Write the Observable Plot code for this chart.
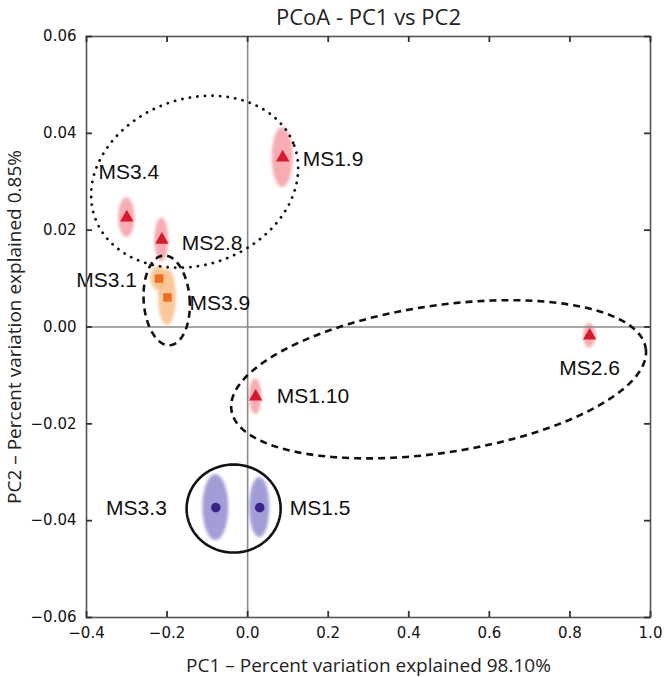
<!DOCTYPE html>
<html><head><meta charset="utf-8">
<script src="https://cdn.jsdelivr.net/npm/d3@7"></script>
<script src="https://cdn.jsdelivr.net/npm/@observablehq/plot@0.6"></script>
<style>body{margin:0;background:#fff}</style>
</head><body><div id="chart"></div>
<script>
// ---- data ----
const samples   = ["MS1.9","MS3.4","MS2.8","MS3.1","MS3.9","MS2.6","MS1.10","MS3.3","MS1.5"];
const pc1       = [0.087,-0.300,-0.213,-0.220,-0.199,0.849,0.020,-0.079,0.030];
const pc2       = [0.0350,0.0226,0.0180,0.0100,0.0061,-0.0018,-0.0144,-0.0373,-0.0373];
const pc1Spread = [0.026,0.020,0.017,0.020,0.022,0.015,0.015,0.032,0.025];
const pc2Spread = [0.0062,0.0041,0.0045,0.0025,0.0058,0.0025,0.0037,0.0068,0.0062];
const groups    = ["A","A","A","B","B","A","A","C","C"];
const xTicks = [-0.4,-0.2,0.0,0.2,0.4,0.6,0.8,1.0];
const yTicks = [-0.06,-0.04,-0.02,0.00,0.02,0.04,0.06];
const title = "PCoA - PC1 vs PC2";
const xLabel = "PC1 – Percent variation explained 98.10%";
const yLabel = "PC2 – Percent variation explained 0.85%";
// cluster outlines (centre in PC units, semi-axes in PC units, tilt in degrees)
const outlineStyle = ["dotted","dashed","dashed","solid"];
const outlineCx = [-0.1316,-0.201,0.474,-0.0348];
const outlineCy = [0.0300,0.0055,-0.0108,-0.0375];
const outlineA  = [0.263,0.0571,0.52,0.1167];
const outlineB  = [0.01714,0.00929,0.0152,0.00909];
const outlineTilt = [-20,-4,-8.5,0];

// ---- layout ----
const W=666,H=677,mL=86,mR=16,mT=36,mB=60;
const xDom=[-0.4,1.0], yDom=[-0.06,0.06];
const innerW=W-mL-mR, innerH=H-mT-mB;
const kx=innerW/(xDom[1]-xDom[0]), ky=innerH/(yDom[1]-yDom[0]);

const pts = samples.map((s,i)=>({name:s,x:pc1[i],y:pc2[i],sx:pc1Spread[i],sy:pc2Spread[i],g:groups[i]}));
const blobs = pts.flatMap(p=>d3.range(0,61).map(k=>{
  const t=Math.PI*k/60; const c=Math.cos(t), s=Math.sin(t);
  return {name:p.name,g:p.g,x:p.x - p.sx*c, y1:p.y - p.sy*s, y2:p.y + p.sy*s};
}));
function outlinePts(i){
  const th=outlineTilt[i]*Math.PI/180, a=outlineA[i]*kx, b=outlineB[i]*ky;
  return d3.range(0,181).map(k=>{
    const t=2*Math.PI*k/180;
    const px=a*Math.cos(t)*Math.cos(th)-b*Math.sin(t)*Math.sin(th);
    const py=a*Math.cos(t)*Math.sin(th)+b*Math.sin(t)*Math.cos(th);
    return {i, x:outlineCx[i]+px/kx, y:outlineCy[i]-py/ky};
  });
}
const dashes={dotted:"0.1,7.5",dashed:"7,5",solid:null};
const blobFill={A:"#f49ea5",B:"#f9bd86",C:"#918dd0"};
const markFill={A:"#d8192b",B:"#e8701e",C:"#3a2388"};
const symbolOf={A:"triangle",B:"square",C:"circle"};
const place={
 "MS1.9":["start",20,2],"MS3.4":["middle",2,-45],"MS2.8":["start",20,3],
 "MS3.1":["end",-22,2],"MS3.9":["start",22,6],"MS2.6":["middle",0,33],
 "MS1.10":["start",21,0],"MS3.3":["end",-49,1],"MS1.5":["start",30,1]
};
const lblFont="Liberation Sans, Arial, sans-serif";
const tickFont="DejaVu Sans, sans-serif";
const capFont="Open Sans, sans-serif";

const chart = Plot.plot({
  width:W,height:H,marginLeft:mL,marginRight:mR,marginTop:mT,marginBottom:mB,
  x:{domain:xDom},y:{domain:yDom},
  marks:[
    Plot.areaY(blobs,{x:"x",y1:"y1",y2:"y2",z:"name",fill:d=>blobFill[d.g],fillOpacity:0.85,curve:"linear"}),
    Plot.ruleX([0],{stroke:"#8a8a8a",strokeWidth:1.6}),
    Plot.ruleY([0],{stroke:"#8a8a8a",strokeWidth:1.6}),
    ...outlineStyle.map((st,i)=>Plot.line(outlinePts(i),{x:"x",y:"y",stroke:"#111",strokeWidth:st==="dotted"?2.8:2.6,strokeDasharray:dashes[st],strokeLinecap:st==="dotted"?"round":"butt",curve:"linear"})),
    ...["A","B","C"].map(g=>Plot.dot(pts.filter(p=>p.g===g),{x:"x",y:"y",symbol:symbolOf[g],fill:markFill[g],r:g==="A"?5:4.8,stroke:null})),
    ...pts.map(p=>Plot.text([p],{x:"x",y:"y",text:"name",textAnchor:place[p.name][0],dx:place[p.name][1],dy:place[p.name][2],fontSize:21,fontFamily:lblFont,fill:"#111"})),
    Plot.frame({stroke:"#555",strokeWidth:1.6}),
    Plot.tickX(xTicks,{x:d=>d,insetTop:innerH-6,stroke:"#333",strokeWidth:1.8}),
    Plot.tickX(xTicks,{x:d=>d,insetBottom:innerH-6,stroke:"#333",strokeWidth:1.8}),
    Plot.tickY(yTicks,{y:d=>d,insetLeft:innerW-6,stroke:"#333",strokeWidth:1.8}),
    Plot.tickY(yTicks,{y:d=>d,insetRight:innerW-6,stroke:"#333",strokeWidth:1.8}),
    Plot.axisX(xTicks,{tickSize:0,tickPadding:10,tickFormat:d3.format(".1f"),label:null,fontSize:15,fontFamily:tickFont,fill:"#111"}),
    Plot.axisY(yTicks,{tickSize:0,tickPadding:10,tickFormat:d3.format(".2f"),label:null,fontSize:15,fontFamily:tickFont,fill:"#111"}),
    Plot.text([title],{frameAnchor:"top",dy:-19,textAnchor:"middle",lineAnchor:"middle",text:d=>d,fontSize:22,fontFamily:capFont,fill:"#222"}),
    Plot.text([xLabel],{frameAnchor:"bottom",dy:48,textAnchor:"middle",lineAnchor:"middle",text:d=>d,fontSize:19,fontFamily:capFont,fill:"#222"}),
    Plot.text([yLabel],{frameAnchor:"left",dx:-72,textAnchor:"middle",lineAnchor:"middle",rotate:-90,text:d=>d,fontSize:19,fontFamily:capFont,fill:"#222"})
  ]
});
// soften the spread ellipses
const svg = d3.select(chart);
svg.insert("defs",":first-child").append("filter").attr("id","soft").attr("x","-50%").attr("y","-50%").attr("width","200%").attr("height","200%")
  .append("feGaussianBlur").attr("stdDeviation",1.6);
svg.select('g[aria-label="area"]').attr("filter","url(#soft)");
document.getElementById("chart").appendChild(chart);
</script></body></html>
